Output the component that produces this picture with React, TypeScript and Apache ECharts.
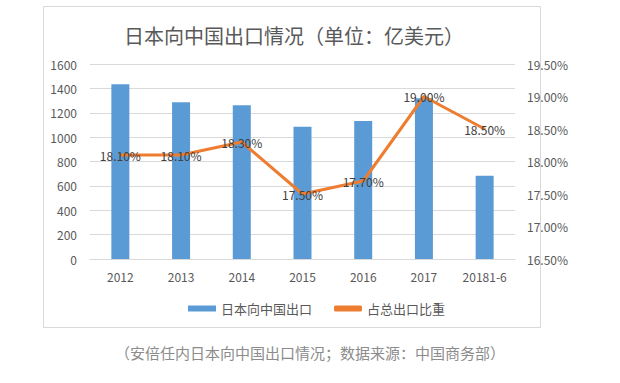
import React, { useEffect, useRef } from "react";
import * as echarts from "echarts";

const categories = ["2012", "2013", "2014", "2015", "2016", "2017", "20181-6"];
const exportValues = [1433, 1286, 1261, 1086, 1132, 1318, 683];
const shareValues = [18.1, 18.1, 18.3, 17.5, 17.7, 19.0, 18.5];
const titleText = "日本向中国出口情况（单位：亿美元）";
const captionText = "（安倍任内日本向中国出口情况；数据来源：中国商务部）";
const barName = "日本向中国出口";
const lineName = "占总出口比重";

const FONT = "'Noto Sans CJK SC', 'Noto Sans', sans-serif";

export default function App() {
  const ref = useRef<HTMLDivElement>(null);
  useEffect(() => {
    if (!ref.current) return;
    const chart = echarts.init(ref.current, undefined, { renderer: "svg" });
    chart.setOption({
      animation: false,
      backgroundColor: "#ffffff",
      textStyle: { fontFamily: FONT },
      title: {
        text: titleText,
        left: 119,
        top: 20,
        textStyle: { fontSize: 20, fontWeight: "normal", color: "#595959", fontFamily: FONT },
      },
      graphic: [
        {
          type: "rect",
          shape: { x: 43.5, y: 6.5, width: 497, height: 321 },
          style: { fill: "none", stroke: "#d9d9d9", lineWidth: 1 },
          silent: true,
          z: -1,
        },
        {
          type: "text",
          x: 115,
          y: 352,
          style: {
            text: captionText,
            fill: "#8c8c8c",
            fontSize: 15,
            fontFamily: FONT,
            textVerticalAlign: "middle",
          },
        },
      ],
      legend: {
        left: 183,
        top: 297,
        itemGap: 22,
        itemWidth: 28,
        itemHeight: 6,
        textStyle: { fontSize: 13, color: "#595959", fontFamily: FONT },
        data: [
          { name: barName, icon: "rect" },
          { name: lineName, icon: "roundRect", itemStyle: { color: "#ED7D31" } },
        ],
      },
      grid: { left: 90, right: 105, top: 64, bottom: 124 },
      xAxis: {
        type: "category",
        data: categories,
        axisLine: { show: true, lineStyle: { color: "#d9d9d9" } },
        axisTick: { show: false },
        axisLabel: { color: "#595959", fontSize: 12, margin: 11, fontFamily: FONT },
      },
      yAxis: [
        {
          type: "value",
          min: 0,
          max: 1600,
          interval: 200,
          axisLine: { show: false },
          axisTick: { show: false },
          splitLine: { lineStyle: { color: "#d9d9d9" } },
          axisLabel: {
            color: "#595959",
            fontSize: 12,
            margin: 13,
            fontFamily: FONT,
            formatter: (v: number) => String(v),
          },
        },
        {
          type: "value",
          min: 16.5,
          max: 19.5,
          interval: 0.5,
          axisLine: { show: false },
          axisTick: { show: false },
          splitLine: { show: false },
          axisLabel: {
            color: "#595959",
            fontSize: 12,
            margin: 12,
            fontFamily: FONT,
            formatter: (v: number) => v.toFixed(2) + "%",
          },
        },
      ],
      series: [
        {
          name: barName,
          type: "bar",
          data: exportValues,
          barWidth: 18,
          itemStyle: { color: "#5B9BD5" },
        },
        {
          name: lineName,
          type: "line",
          yAxisIndex: 1,
          data: shareValues,
          symbol: "circle",
          symbolSize: 2,
          itemStyle: { color: "#ED7D31" },
          lineStyle: { color: "#ED7D31", width: 3 },
          label: {
            show: true,
            position: "inside",
            color: "#404040",
            fontSize: 12,
            fontFamily: FONT,
            formatter: (p: any) => Number(p.value).toFixed(2) + "%",
          },
        },
      ],
    });
    return () => chart.dispose();
  }, []);
  return (
    <div
      ref={ref}
      style={{ position: "fixed", left: 0, top: 0, width: 620, height: 383 }}
    />
  );
}
